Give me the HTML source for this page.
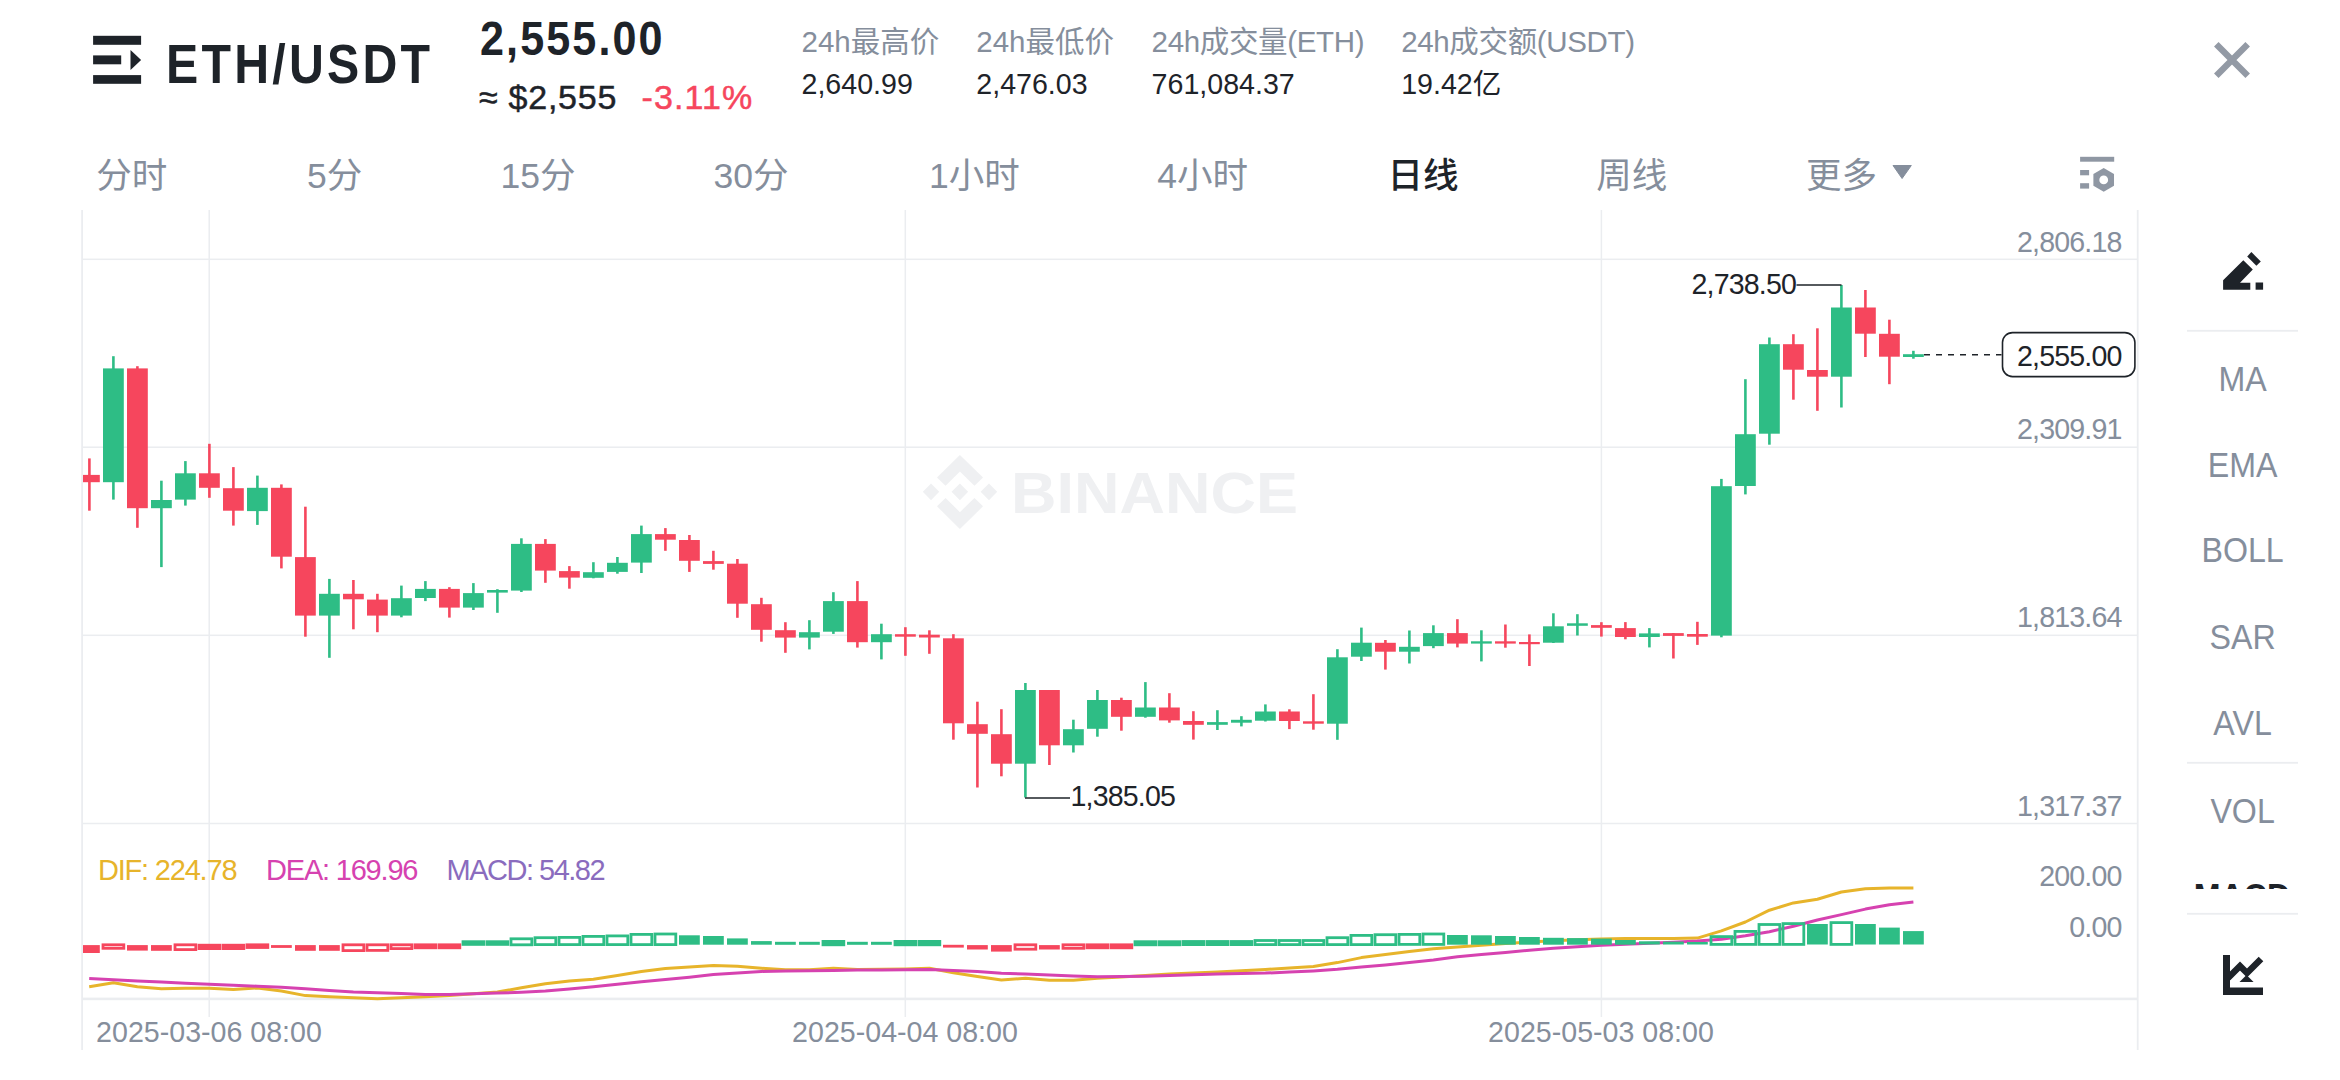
<!DOCTYPE html>
<html lang="zh-CN"><head><meta charset="utf-8"><title>ETH/USDT</title>
<style>
html,body{margin:0;padding:0;background:#fff;}
body{width:2340px;height:1080px;overflow:hidden;position:relative;font-family:'Liberation Sans', 'Noto Sans CJK SC', sans-serif;}
.abs{position:absolute;}
</style></head><body>
<svg class="abs" width="2340" height="1080" viewBox="0 0 2340 1080" style="left:0;top:0"><defs><clipPath id="cc"><rect x="83" y="210" width="2054" height="840"/></clipPath></defs><rect x="82" y="258.55" width="2056" height="1.5" fill="#EBEDF0"/><rect x="82" y="446.45" width="2056" height="1.5" fill="#EBEDF0"/><rect x="82" y="634.55" width="2056" height="1.5" fill="#EBEDF0"/><rect x="82" y="822.75" width="2056" height="1.5" fill="#EBEDF0"/><rect x="208.45" y="210" width="1.5" height="807" fill="#EBEDF0"/><rect x="904.55" y="210" width="1.5" height="807" fill="#EBEDF0"/><rect x="1600.65" y="210" width="1.5" height="807" fill="#EBEDF0"/><rect x="81.2" y="210" width="1.8" height="840" fill="#EBEDF0"/><rect x="2136.8" y="210" width="1.8" height="840" fill="#EBEDF0"/><rect x="82" y="997.6" width="2056" height="2.6" fill="#EBEDF0"/><g transform="translate(910 440) scale(0.17094)" fill="#EFF0F2"><polygon points="292,88 427,220 377,268 292,185 208,268 158,220"/><polygon points="75,303 123,255 171,303 123,352"/><polygon points="243,303 292,255 340,303 292,352"/><polygon points="413,303 462,255 510,303 462,352"/><polygon points="292,520 427,388 377,340 292,422 208,340 158,388"/></g><text x="1011" y="512.6" font-family="'Liberation Sans', 'Noto Sans CJK SC', sans-serif" font-weight="bold" font-size="58" fill="#EFF0F2" textLength="287" lengthAdjust="spacingAndGlyphs">BINANCE</text><g clip-path="url(#cc)"><rect x="88.10" y="458.4" width="2.6" height="52.3" fill="#F6465D"/><rect x="79.00" y="474.9" width="20.8" height="7.3" fill="#F6465D"/><rect x="112.10" y="356.2" width="2.6" height="143.4" fill="#2EBD85"/><rect x="103.00" y="368.4" width="20.8" height="113.8" fill="#2EBD85"/><rect x="136.10" y="366.2" width="2.6" height="161.6" fill="#F6465D"/><rect x="127.00" y="368.4" width="20.8" height="139.8" fill="#F6465D"/><rect x="160.10" y="480.7" width="2.6" height="86.4" fill="#2EBD85"/><rect x="151.00" y="500.0" width="20.8" height="8.2" fill="#2EBD85"/><rect x="184.10" y="461.1" width="2.6" height="44.5" fill="#2EBD85"/><rect x="175.00" y="473.3" width="20.8" height="26.3" fill="#2EBD85"/><rect x="208.10" y="443.8" width="2.6" height="54.0" fill="#F6465D"/><rect x="199.00" y="473.3" width="20.8" height="14.5" fill="#F6465D"/><rect x="232.10" y="467.1" width="2.6" height="58.5" fill="#F6465D"/><rect x="223.00" y="488.2" width="20.8" height="22.5" fill="#F6465D"/><rect x="256.10" y="475.6" width="2.6" height="49.3" fill="#2EBD85"/><rect x="247.00" y="487.8" width="20.8" height="23.3" fill="#2EBD85"/><rect x="280.10" y="484.4" width="2.6" height="84.0" fill="#F6465D"/><rect x="271.00" y="487.8" width="20.8" height="68.9" fill="#F6465D"/><rect x="304.10" y="506.7" width="2.6" height="130.0" fill="#F6465D"/><rect x="295.00" y="557.1" width="20.8" height="58.5" fill="#F6465D"/><rect x="328.10" y="578.9" width="2.6" height="78.9" fill="#2EBD85"/><rect x="319.00" y="593.8" width="20.8" height="21.8" fill="#2EBD85"/><rect x="352.10" y="580.0" width="2.6" height="49.3" fill="#F6465D"/><rect x="343.00" y="593.8" width="20.8" height="5.5" fill="#F6465D"/><rect x="376.10" y="593.8" width="2.6" height="38.4" fill="#F6465D"/><rect x="367.00" y="599.6" width="20.8" height="16.0" fill="#F6465D"/><rect x="400.10" y="585.6" width="2.6" height="31.7" fill="#2EBD85"/><rect x="391.00" y="598.2" width="20.8" height="17.4" fill="#2EBD85"/><rect x="424.10" y="581.1" width="2.6" height="20.0" fill="#2EBD85"/><rect x="415.00" y="588.9" width="20.8" height="9.1" fill="#2EBD85"/><rect x="448.10" y="587.2" width="2.6" height="30.4" fill="#F6465D"/><rect x="439.00" y="588.9" width="20.8" height="18.7" fill="#F6465D"/><rect x="472.10" y="583.1" width="2.6" height="26.9" fill="#2EBD85"/><rect x="463.00" y="593.1" width="20.8" height="14.5" fill="#2EBD85"/><rect x="496.10" y="589.2" width="2.6" height="23.6" fill="#2EBD85"/><rect x="487.00" y="590.0" width="20.8" height="2.6" fill="#2EBD85"/><rect x="520.10" y="538.3" width="2.6" height="53.7" fill="#2EBD85"/><rect x="511.00" y="543.9" width="20.8" height="46.7" fill="#2EBD85"/><rect x="544.10" y="539.1" width="2.6" height="43.7" fill="#F6465D"/><rect x="535.00" y="543.9" width="20.8" height="26.7" fill="#F6465D"/><rect x="568.10" y="566.1" width="2.6" height="22.6" fill="#F6465D"/><rect x="559.00" y="571.1" width="20.8" height="6.5" fill="#F6465D"/><rect x="592.10" y="562.2" width="2.6" height="16.1" fill="#2EBD85"/><rect x="583.00" y="572.2" width="20.8" height="5.6" fill="#2EBD85"/><rect x="616.10" y="557.0" width="2.6" height="16.7" fill="#2EBD85"/><rect x="607.00" y="562.8" width="20.8" height="9.1" fill="#2EBD85"/><rect x="640.10" y="525.6" width="2.6" height="47.4" fill="#2EBD85"/><rect x="631.00" y="534.1" width="20.8" height="28.5" fill="#2EBD85"/><rect x="664.10" y="528.1" width="2.6" height="22.7" fill="#F6465D"/><rect x="655.00" y="534.1" width="20.8" height="5.6" fill="#F6465D"/><rect x="688.10" y="535.0" width="2.6" height="36.9" fill="#F6465D"/><rect x="679.00" y="540.0" width="20.8" height="20.8" fill="#F6465D"/><rect x="712.10" y="550.8" width="2.6" height="18.9" fill="#F6465D"/><rect x="703.00" y="561.1" width="20.8" height="2.8" fill="#F6465D"/><rect x="736.10" y="559.0" width="2.6" height="58.8" fill="#F6465D"/><rect x="727.00" y="563.7" width="20.8" height="40.0" fill="#F6465D"/><rect x="760.10" y="597.8" width="2.6" height="43.9" fill="#F6465D"/><rect x="751.00" y="604.2" width="20.8" height="25.6" fill="#F6465D"/><rect x="784.10" y="622.2" width="2.6" height="30.6" fill="#F6465D"/><rect x="775.00" y="630.2" width="20.8" height="7.4" fill="#F6465D"/><rect x="808.10" y="620.2" width="2.6" height="29.2" fill="#2EBD85"/><rect x="799.00" y="632.2" width="20.8" height="5.4" fill="#2EBD85"/><rect x="832.10" y="592.2" width="2.6" height="41.7" fill="#2EBD85"/><rect x="823.00" y="601.1" width="20.8" height="30.6" fill="#2EBD85"/><rect x="856.10" y="581.1" width="2.6" height="66.5" fill="#F6465D"/><rect x="847.00" y="601.1" width="20.8" height="41.1" fill="#F6465D"/><rect x="880.10" y="623.7" width="2.6" height="35.7" fill="#2EBD85"/><rect x="871.00" y="634.2" width="20.8" height="8.0" fill="#2EBD85"/><rect x="904.10" y="627.2" width="2.6" height="28.6" fill="#F6465D"/><rect x="895.00" y="634.2" width="20.8" height="2.5" fill="#F6465D"/><rect x="928.10" y="630.3" width="2.6" height="23.5" fill="#F6465D"/><rect x="919.00" y="634.7" width="20.8" height="2.8" fill="#F6465D"/><rect x="952.10" y="634.2" width="2.6" height="105.5" fill="#F6465D"/><rect x="943.00" y="638.3" width="20.8" height="85.0" fill="#F6465D"/><rect x="976.10" y="701.7" width="2.6" height="85.8" fill="#F6465D"/><rect x="967.00" y="724.2" width="20.8" height="9.6" fill="#F6465D"/><rect x="1000.10" y="709.2" width="2.6" height="67.1" fill="#F6465D"/><rect x="991.00" y="734.2" width="20.8" height="29.5" fill="#F6465D"/><rect x="1024.10" y="683.0" width="2.6" height="114.5" fill="#2EBD85"/><rect x="1015.00" y="690.0" width="20.8" height="73.7" fill="#2EBD85"/><rect x="1048.10" y="690.0" width="2.6" height="75.0" fill="#F6465D"/><rect x="1039.00" y="690.0" width="20.8" height="55.3" fill="#F6465D"/><rect x="1072.10" y="719.7" width="2.6" height="32.8" fill="#2EBD85"/><rect x="1063.00" y="729.2" width="20.8" height="16.1" fill="#2EBD85"/><rect x="1096.10" y="690.0" width="2.6" height="46.7" fill="#2EBD85"/><rect x="1087.00" y="700.0" width="20.8" height="28.8" fill="#2EBD85"/><rect x="1120.10" y="697.7" width="2.6" height="33.0" fill="#F6465D"/><rect x="1111.00" y="700.0" width="20.8" height="16.8" fill="#F6465D"/><rect x="1144.10" y="682.1" width="2.6" height="35.6" fill="#2EBD85"/><rect x="1135.00" y="707.5" width="20.8" height="9.3" fill="#2EBD85"/><rect x="1168.10" y="693.2" width="2.6" height="29.5" fill="#F6465D"/><rect x="1159.00" y="707.5" width="20.8" height="12.9" fill="#F6465D"/><rect x="1192.10" y="711.2" width="2.6" height="28.4" fill="#F6465D"/><rect x="1183.00" y="721.0" width="20.8" height="3.8" fill="#F6465D"/><rect x="1216.10" y="710.2" width="2.6" height="19.8" fill="#2EBD85"/><rect x="1207.00" y="722.1" width="20.8" height="2.7" fill="#2EBD85"/><rect x="1240.10" y="716.2" width="2.6" height="10.2" fill="#2EBD85"/><rect x="1231.00" y="719.8" width="20.8" height="2.9" fill="#2EBD85"/><rect x="1264.10" y="704.4" width="2.6" height="17.1" fill="#2EBD85"/><rect x="1255.00" y="711.5" width="20.8" height="9.2" fill="#2EBD85"/><rect x="1288.10" y="709.3" width="2.6" height="19.8" fill="#F6465D"/><rect x="1279.00" y="711.5" width="20.8" height="9.5" fill="#F6465D"/><rect x="1312.10" y="694.2" width="2.6" height="35.5" fill="#F6465D"/><rect x="1303.00" y="721.3" width="20.8" height="2.4" fill="#F6465D"/><rect x="1336.10" y="649.2" width="2.6" height="90.6" fill="#2EBD85"/><rect x="1327.00" y="657.3" width="20.8" height="66.4" fill="#2EBD85"/><rect x="1360.10" y="627.6" width="2.6" height="33.4" fill="#2EBD85"/><rect x="1351.00" y="642.7" width="20.8" height="14.0" fill="#2EBD85"/><rect x="1384.10" y="640.0" width="2.6" height="29.6" fill="#F6465D"/><rect x="1375.00" y="642.8" width="20.8" height="8.9" fill="#F6465D"/><rect x="1408.10" y="630.5" width="2.6" height="33.0" fill="#2EBD85"/><rect x="1399.00" y="646.8" width="20.8" height="4.9" fill="#2EBD85"/><rect x="1432.10" y="625.3" width="2.6" height="22.9" fill="#2EBD85"/><rect x="1423.00" y="633.1" width="20.8" height="13.0" fill="#2EBD85"/><rect x="1456.10" y="619.2" width="2.6" height="28.2" fill="#F6465D"/><rect x="1447.00" y="633.1" width="20.8" height="10.5" fill="#F6465D"/><rect x="1480.10" y="630.3" width="2.6" height="31.1" fill="#2EBD85"/><rect x="1471.00" y="641.3" width="20.8" height="2.3" fill="#2EBD85"/><rect x="1504.10" y="624.5" width="2.6" height="23.2" fill="#F6465D"/><rect x="1495.00" y="641.3" width="20.8" height="2.3" fill="#F6465D"/><rect x="1528.10" y="634.4" width="2.6" height="31.6" fill="#F6465D"/><rect x="1519.00" y="642.0" width="20.8" height="2.2" fill="#F6465D"/><rect x="1552.10" y="613.3" width="2.6" height="29.7" fill="#2EBD85"/><rect x="1543.00" y="626.3" width="20.8" height="16.4" fill="#2EBD85"/><rect x="1576.10" y="614.2" width="2.6" height="21.3" fill="#2EBD85"/><rect x="1567.00" y="623.3" width="20.8" height="2.5" fill="#2EBD85"/><rect x="1600.10" y="622.2" width="2.6" height="14.4" fill="#F6465D"/><rect x="1591.00" y="625.1" width="20.8" height="2.7" fill="#F6465D"/><rect x="1624.10" y="622.1" width="2.6" height="17.2" fill="#F6465D"/><rect x="1615.00" y="628.1" width="20.8" height="8.9" fill="#F6465D"/><rect x="1648.10" y="628.1" width="2.6" height="19.3" fill="#2EBD85"/><rect x="1639.00" y="633.4" width="20.8" height="3.6" fill="#2EBD85"/><rect x="1672.10" y="633.0" width="2.6" height="25.5" fill="#F6465D"/><rect x="1663.00" y="633.1" width="20.8" height="2.8" fill="#F6465D"/><rect x="1696.10" y="621.8" width="2.6" height="23.1" fill="#F6465D"/><rect x="1687.00" y="634.0" width="20.8" height="2.7" fill="#F6465D"/><rect x="1720.10" y="478.9" width="2.6" height="158.4" fill="#2EBD85"/><rect x="1711.00" y="486.2" width="20.8" height="149.4" fill="#2EBD85"/><rect x="1744.10" y="379.2" width="2.6" height="115.2" fill="#2EBD85"/><rect x="1735.00" y="434.2" width="20.8" height="51.8" fill="#2EBD85"/><rect x="1768.10" y="337.5" width="2.6" height="107.2" fill="#2EBD85"/><rect x="1759.00" y="344.2" width="20.8" height="89.5" fill="#2EBD85"/><rect x="1792.10" y="334.2" width="2.6" height="65.5" fill="#F6465D"/><rect x="1783.00" y="344.2" width="20.8" height="25.5" fill="#F6465D"/><rect x="1816.10" y="328.3" width="2.6" height="82.5" fill="#F6465D"/><rect x="1807.00" y="370.0" width="20.8" height="6.7" fill="#F6465D"/><rect x="1840.10" y="285.0" width="2.6" height="122.5" fill="#2EBD85"/><rect x="1831.00" y="307.5" width="20.8" height="69.2" fill="#2EBD85"/><rect x="1864.10" y="290.0" width="2.6" height="67.0" fill="#F6465D"/><rect x="1855.00" y="307.5" width="20.8" height="26.2" fill="#F6465D"/><rect x="1888.10" y="319.7" width="2.6" height="64.5" fill="#F6465D"/><rect x="1879.00" y="333.8" width="20.8" height="22.9" fill="#F6465D"/><rect x="1912.10" y="350.8" width="2.6" height="7.9" fill="#2EBD85"/><rect x="1903.00" y="354.2" width="20.8" height="2.8" fill="#2EBD85"/><polyline points="89.2,986.8 113.4,982.8 137.4,986.8 161.4,988.8 185.4,988.2 209.4,988.2 233.4,989.5 257.4,987.9 281.4,991.0 305.4,995.6 329.4,996.7 353.4,997.7 377.4,998.7 401.4,997.7 425.4,996.7 449.4,995.6 473.4,993.8 497.4,992.1 521.4,987.7 545.4,983.8 569.4,981.0 593.4,979.2 617.4,975.6 641.4,971.6 665.4,968.5 689.4,966.9 713.4,965.4 737.4,966.3 761.4,968.3 785.4,969.8 809.4,969.8 833.4,968.3 857.4,969.4 881.4,969.2 905.4,969.0 929.4,968.3 953.4,972.8 977.4,976.6 1001.4,980.0 1025.4,978.3 1049.4,980.3 1073.4,980.3 1097.4,978.3 1121.4,976.9 1145.4,975.5 1169.4,974.1 1193.4,973.1 1217.4,972.0 1241.4,970.7 1265.4,969.4 1289.4,968.1 1313.4,966.6 1337.4,962.6 1361.4,957.6 1385.4,954.6 1409.4,951.6 1433.4,948.7 1457.4,946.9 1481.4,945.2 1505.4,943.6 1529.4,942.1 1553.4,940.8 1577.4,939.7 1601.4,938.9 1625.4,938.6 1649.4,938.5 1673.4,938.4 1697.4,938.1 1721.4,930.9 1745.4,922.0 1769.4,910.2 1793.4,902.9 1817.4,899.2 1841.4,892.0 1865.4,888.7 1889.4,888.0 1913.4,888.0" fill="none" stroke="#E7B42B" stroke-width="3" stroke-linejoin="round"/><polyline points="89.2,978.6 113.4,979.8 137.4,981.0 161.4,982.1 185.4,983.2 209.4,984.3 233.4,985.3 257.4,986.2 281.4,987.2 305.4,988.8 329.4,990.4 353.4,991.9 377.4,992.8 401.4,993.6 425.4,994.4 449.4,994.4 473.4,993.7 497.4,993.1 521.4,992.2 545.4,991.0 569.4,988.9 593.4,986.8 617.4,984.3 641.4,981.8 665.4,979.5 689.4,977.2 713.4,974.6 737.4,973.0 761.4,971.4 785.4,971.1 809.4,970.7 833.4,970.4 857.4,970.1 881.4,969.9 905.4,969.7 929.4,969.4 953.4,970.4 977.4,971.4 1001.4,973.2 1025.4,974.1 1049.4,975.1 1073.4,975.9 1097.4,976.8 1121.4,976.5 1145.4,976.2 1169.4,975.5 1193.4,974.8 1217.4,974.1 1241.4,973.6 1265.4,973.1 1289.4,972.0 1313.4,970.9 1337.4,969.3 1361.4,967.1 1385.4,964.9 1409.4,962.4 1433.4,959.9 1457.4,956.7 1481.4,954.5 1505.4,952.4 1529.4,950.2 1553.4,948.3 1577.4,946.7 1601.4,945.3 1625.4,944.3 1649.4,943.2 1673.4,942.2 1697.4,941.0 1721.4,939.2 1745.4,935.8 1769.4,931.7 1793.4,926.2 1817.4,920.0 1841.4,914.6 1865.4,909.1 1889.4,904.8 1913.4,902.1" fill="none" stroke="#D642B0" stroke-width="3" stroke-linejoin="round"/><rect x="79.00" y="945.1" width="20.8" height="7.9" fill="#F6465D"/><rect x="103.00" y="944.8" width="20.8" height="3.5" fill="none" stroke="#F6465D" stroke-width="2.8"/><rect x="127.00" y="945.1" width="20.8" height="5.5" fill="#F6465D"/><rect x="151.00" y="945.1" width="20.8" height="5.7" fill="#F6465D"/><rect x="175.00" y="944.8" width="20.8" height="4.8" fill="none" stroke="#F6465D" stroke-width="2.8"/><rect x="197.60" y="943.8" width="23.6" height="6.2" fill="#F6465D"/><rect x="221.60" y="943.8" width="23.6" height="6.2" fill="#F6465D"/><rect x="245.60" y="943.4" width="23.6" height="5.5" fill="#F6465D"/><rect x="271.00" y="945.1" width="20.8" height="2.8" fill="#F6465D"/><rect x="295.00" y="945.1" width="20.8" height="5.7" fill="#F6465D"/><rect x="319.00" y="945.1" width="20.8" height="5.7" fill="#F6465D"/><rect x="343.00" y="944.8" width="20.8" height="5.8" fill="none" stroke="#F6465D" stroke-width="2.8"/><rect x="367.00" y="944.8" width="20.8" height="5.6" fill="none" stroke="#F6465D" stroke-width="2.8"/><rect x="391.00" y="944.8" width="20.8" height="3.8" fill="none" stroke="#F6465D" stroke-width="2.8"/><rect x="413.60" y="943.4" width="23.6" height="5.8" fill="#F6465D"/><rect x="437.60" y="943.4" width="23.6" height="5.8" fill="#F6465D"/><rect x="461.60" y="940.3" width="23.6" height="5.5" fill="#2EBD85"/><rect x="485.60" y="940.3" width="23.6" height="5.5" fill="#2EBD85"/><rect x="511.00" y="938.8" width="20.8" height="6.0" fill="none" stroke="#2EBD85" stroke-width="2.8"/><rect x="535.00" y="937.7" width="20.8" height="6.9" fill="none" stroke="#2EBD85" stroke-width="2.8"/><rect x="559.00" y="937.4" width="20.8" height="7.2" fill="none" stroke="#2EBD85" stroke-width="2.8"/><rect x="583.00" y="936.4" width="20.8" height="8.2" fill="none" stroke="#2EBD85" stroke-width="2.8"/><rect x="607.00" y="935.9" width="20.8" height="8.7" fill="none" stroke="#2EBD85" stroke-width="2.8"/><rect x="631.00" y="934.4" width="20.8" height="10.2" fill="none" stroke="#2EBD85" stroke-width="2.8"/><rect x="655.00" y="934.0" width="20.8" height="10.6" fill="none" stroke="#2EBD85" stroke-width="2.8"/><rect x="679.00" y="935.3" width="20.8" height="9.4" fill="#2EBD85"/><rect x="703.00" y="936.0" width="20.8" height="8.7" fill="#2EBD85"/><rect x="727.00" y="938.4" width="20.8" height="6.3" fill="#2EBD85"/><rect x="751.00" y="941.1" width="20.8" height="3.6" fill="#2EBD85"/><rect x="775.00" y="941.8" width="20.8" height="3.0" fill="#2EBD85"/><rect x="799.00" y="941.8" width="20.8" height="3.0" fill="#2EBD85"/><rect x="821.60" y="940.0" width="23.6" height="6.2" fill="#2EBD85"/><rect x="847.00" y="941.8" width="20.8" height="3.0" fill="#2EBD85"/><rect x="871.00" y="941.8" width="20.8" height="3.0" fill="#2EBD85"/><rect x="893.60" y="940.0" width="23.6" height="6.2" fill="#2EBD85"/><rect x="917.60" y="940.0" width="23.6" height="6.2" fill="#2EBD85"/><rect x="943.00" y="944.8" width="20.8" height="2.8" fill="#F6465D"/><rect x="967.00" y="945.1" width="20.8" height="4.4" fill="#F6465D"/><rect x="991.00" y="945.1" width="20.8" height="6.5" fill="#F6465D"/><rect x="1015.00" y="944.8" width="20.8" height="4.4" fill="none" stroke="#F6465D" stroke-width="2.8"/><rect x="1039.00" y="945.1" width="20.8" height="4.4" fill="#F6465D"/><rect x="1063.00" y="944.8" width="20.8" height="3.5" fill="none" stroke="#F6465D" stroke-width="2.8"/><rect x="1085.60" y="943.4" width="23.6" height="5.8" fill="#F6465D"/><rect x="1109.60" y="943.4" width="23.6" height="5.8" fill="#F6465D"/><rect x="1133.60" y="940.3" width="23.6" height="5.9" fill="#2EBD85"/><rect x="1157.60" y="940.3" width="23.6" height="5.9" fill="#2EBD85"/><rect x="1181.60" y="940.1" width="23.6" height="5.9" fill="#2EBD85"/><rect x="1205.60" y="940.1" width="23.6" height="5.9" fill="#2EBD85"/><rect x="1229.60" y="940.1" width="23.6" height="5.9" fill="#2EBD85"/><rect x="1255.00" y="940.5" width="20.8" height="4.1" fill="none" stroke="#2EBD85" stroke-width="2.8"/><rect x="1279.00" y="940.5" width="20.8" height="4.1" fill="none" stroke="#2EBD85" stroke-width="2.8"/><rect x="1303.00" y="940.5" width="20.8" height="4.1" fill="none" stroke="#2EBD85" stroke-width="2.8"/><rect x="1327.00" y="937.7" width="20.8" height="6.9" fill="none" stroke="#2EBD85" stroke-width="2.8"/><rect x="1351.00" y="935.4" width="20.8" height="9.2" fill="none" stroke="#2EBD85" stroke-width="2.8"/><rect x="1375.00" y="934.7" width="20.8" height="9.9" fill="none" stroke="#2EBD85" stroke-width="2.8"/><rect x="1399.00" y="934.4" width="20.8" height="10.0" fill="none" stroke="#2EBD85" stroke-width="2.8"/><rect x="1423.00" y="934.0" width="20.8" height="10.4" fill="none" stroke="#2EBD85" stroke-width="2.8"/><rect x="1447.00" y="935.0" width="20.8" height="9.7" fill="#2EBD85"/><rect x="1471.00" y="935.3" width="20.8" height="9.4" fill="#2EBD85"/><rect x="1495.00" y="936.0" width="20.8" height="8.7" fill="#2EBD85"/><rect x="1519.00" y="937.0" width="20.8" height="7.7" fill="#2EBD85"/><rect x="1543.00" y="937.8" width="20.8" height="6.9" fill="#2EBD85"/><rect x="1567.00" y="938.1" width="20.8" height="6.6" fill="#2EBD85"/><rect x="1591.00" y="938.6" width="20.8" height="6.1" fill="#2EBD85"/><rect x="1615.00" y="940.0" width="20.8" height="4.7" fill="#2EBD85"/><rect x="1639.00" y="941.3" width="20.8" height="3.2" fill="#2EBD85"/><rect x="1663.00" y="941.6" width="20.8" height="2.9" fill="#2EBD85"/><rect x="1687.00" y="942.0" width="20.8" height="2.5" fill="#2EBD85"/><rect x="1711.00" y="936.6" width="20.8" height="7.8" fill="none" stroke="#2EBD85" stroke-width="2.8"/><rect x="1735.00" y="931.4" width="20.8" height="13.0" fill="none" stroke="#2EBD85" stroke-width="2.8"/><rect x="1759.00" y="924.5" width="20.8" height="19.9" fill="none" stroke="#2EBD85" stroke-width="2.8"/><rect x="1783.00" y="923.6" width="20.8" height="20.8" fill="none" stroke="#2EBD85" stroke-width="2.8"/><rect x="1807.00" y="924.0" width="20.8" height="20.5" fill="#2EBD85"/><rect x="1831.00" y="922.6" width="20.8" height="21.8" fill="none" stroke="#2EBD85" stroke-width="2.8"/><rect x="1855.00" y="924.0" width="20.8" height="20.5" fill="#2EBD85"/><rect x="1879.00" y="927.6" width="20.8" height="16.9" fill="#2EBD85"/><rect x="1903.00" y="931.1" width="20.8" height="13.4" fill="#2EBD85"/></g><line x1="1924" y1="354.8" x2="2001.5" y2="354.8" stroke="#1E2329" stroke-width="1.5" stroke-dasharray="6 6"/><rect x="2002.5" y="332.6" width="132.4" height="44" rx="10" ry="10" fill="#fff" stroke="#1E2329" stroke-width="1.6"/><line x1="1796.5" y1="285" x2="1841.5" y2="285" stroke="#1E2329" stroke-width="1.5"/><line x1="1025" y1="798" x2="1070" y2="798" stroke="#1E2329" stroke-width="1.5"/><text x="2121.5" y="251.8" font-family="'Liberation Sans', 'Noto Sans CJK SC', sans-serif" font-size="28.6" fill="#858E9C" font-weight="normal" text-anchor="end" letter-spacing="-0.85">2,806.18</text><text x="2121.5" y="438.9" font-family="'Liberation Sans', 'Noto Sans CJK SC', sans-serif" font-size="28.6" fill="#858E9C" font-weight="normal" text-anchor="end" letter-spacing="-0.85">2,309.91</text><text x="2121.5" y="627.0" font-family="'Liberation Sans', 'Noto Sans CJK SC', sans-serif" font-size="28.6" fill="#858E9C" font-weight="normal" text-anchor="end" letter-spacing="-0.85">1,813.64</text><text x="2121.5" y="816.3" font-family="'Liberation Sans', 'Noto Sans CJK SC', sans-serif" font-size="28.6" fill="#858E9C" font-weight="normal" text-anchor="end" letter-spacing="-0.85">1,317.37</text><text x="2121.5" y="885.8" font-family="'Liberation Sans', 'Noto Sans CJK SC', sans-serif" font-size="28.6" fill="#858E9C" font-weight="normal" text-anchor="end" letter-spacing="-0.85">200.00</text><text x="2121.5" y="936.9" font-family="'Liberation Sans', 'Noto Sans CJK SC', sans-serif" font-size="28.6" fill="#858E9C" font-weight="normal" text-anchor="end" letter-spacing="-0.85">0.00</text><text x="2121.5" y="365.6" font-family="'Liberation Sans', 'Noto Sans CJK SC', sans-serif" font-size="28.6" fill="#1E2329" font-weight="normal" text-anchor="end" letter-spacing="-0.85">2,555.00</text><text x="1691.5" y="293.7" font-family="'Liberation Sans', 'Noto Sans CJK SC', sans-serif" font-size="28.6" fill="#1E2329" font-weight="normal" text-anchor="start" letter-spacing="-0.85">2,738.50</text><text x="1070.5" y="805.8" font-family="'Liberation Sans', 'Noto Sans CJK SC', sans-serif" font-size="28.6" fill="#1E2329" font-weight="normal" text-anchor="start" letter-spacing="-0.85">1,385.05</text><text x="98" y="880" font-family="'Liberation Sans', 'Noto Sans CJK SC', sans-serif" font-size="29" fill="#E7B42B" font-weight="normal" text-anchor="start" letter-spacing="-1.2">DIF: 224.78</text><text x="266" y="880" font-family="'Liberation Sans', 'Noto Sans CJK SC', sans-serif" font-size="29" fill="#D642B0" font-weight="normal" text-anchor="start" letter-spacing="-1.2">DEA: 169.96</text><text x="446.5" y="880" font-family="'Liberation Sans', 'Noto Sans CJK SC', sans-serif" font-size="29" fill="#8A6CBE" font-weight="normal" text-anchor="start" letter-spacing="-1.5">MACD: 54.82</text><text x="209" y="1041.7" font-family="'Liberation Sans', 'Noto Sans CJK SC', sans-serif" font-size="28.6" fill="#858E9C" font-weight="normal" text-anchor="middle" >2025-03-06 08:00</text><text x="905" y="1041.7" font-family="'Liberation Sans', 'Noto Sans CJK SC', sans-serif" font-size="28.6" fill="#858E9C" font-weight="normal" text-anchor="middle" >2025-04-04 08:00</text><text x="1601" y="1041.7" font-family="'Liberation Sans', 'Noto Sans CJK SC', sans-serif" font-size="28.6" fill="#858E9C" font-weight="normal" text-anchor="middle" >2025-05-03 08:00</text><rect x="93.1" y="35.8" width="48" height="9" fill="#1E2329"/><rect x="93.1" y="55.4" width="28.1" height="8.9" fill="#1E2329"/><polygon points="130.5,50 141.1,60 130.5,70" fill="#1E2329"/><rect x="93.1" y="75.1" width="48" height="8.7" fill="#1E2329"/><g transform="matrix(0.872,0,0,1,21.25,0)"><text x="166" y="82.8" font-family="'Liberation Sans', 'Noto Sans CJK SC', sans-serif" font-size="55.4" fill="#1E2329" font-weight="bold" text-anchor="start" letter-spacing="3.7">ETH/USDT</text></g><g transform="matrix(0.88,0,0,1,57.60,0)"><text x="480" y="55.1" font-family="'Liberation Sans', 'Noto Sans CJK SC', sans-serif" font-size="49" fill="#1E2329" font-weight="bold" text-anchor="start" letter-spacing="2.4">2,555.00</text></g><text x="479" y="108.5" font-family="'Liberation Sans', 'Noto Sans CJK SC', sans-serif" font-size="34" fill="#1E2329" font-weight="normal" text-anchor="start" letter-spacing="0.75" stroke="#1E2329" stroke-width="0.5">≈ $2,555</text><text x="641.5" y="108.5" font-family="'Liberation Sans', 'Noto Sans CJK SC', sans-serif" font-size="34" fill="#F6465D" font-weight="normal" text-anchor="start" letter-spacing="1.1" stroke="#F6465D" stroke-width="0.5">-3.11%</text><text x="801.5" y="51.7" font-family="'Liberation Sans', 'Noto Sans CJK SC', sans-serif" font-size="29.5" fill="#858E9C" font-weight="normal" text-anchor="start" >24h最高价</text><text x="801.5" y="93.8" font-family="'Liberation Sans', 'Noto Sans CJK SC', sans-serif" font-size="28.6" fill="#1E2329" font-weight="normal" text-anchor="start" >2,640.99</text><text x="976.3" y="51.7" font-family="'Liberation Sans', 'Noto Sans CJK SC', sans-serif" font-size="29.5" fill="#858E9C" font-weight="normal" text-anchor="start" >24h最低价</text><text x="976.3" y="93.8" font-family="'Liberation Sans', 'Noto Sans CJK SC', sans-serif" font-size="28.6" fill="#1E2329" font-weight="normal" text-anchor="start" >2,476.03</text><text x="1151.6" y="51.7" font-family="'Liberation Sans', 'Noto Sans CJK SC', sans-serif" font-size="29.5" fill="#858E9C" font-weight="normal" text-anchor="start" letter-spacing="-0.35">24h成交量(ETH)</text><text x="1151.6" y="93.8" font-family="'Liberation Sans', 'Noto Sans CJK SC', sans-serif" font-size="28.6" fill="#1E2329" font-weight="normal" text-anchor="start" >761,084.37</text><text x="1401.2" y="51.7" font-family="'Liberation Sans', 'Noto Sans CJK SC', sans-serif" font-size="29.5" fill="#858E9C" font-weight="normal" text-anchor="start" letter-spacing="-0.35">24h成交额(USDT)</text><text x="1401.2" y="93.8" font-family="'Liberation Sans', 'Noto Sans CJK SC', sans-serif" font-size="28.6" fill="#1E2329" font-weight="normal" text-anchor="start" >19.42亿</text><text x="96.3" y="188.3" font-family="'Liberation Sans', 'Noto Sans CJK SC', sans-serif" font-size="35.5" fill="#858E9C" font-weight="normal" text-anchor="start" >分时</text><text x="306.9" y="188.3" font-family="'Liberation Sans', 'Noto Sans CJK SC', sans-serif" font-size="35.5" fill="#858E9C" font-weight="normal" text-anchor="start" >5分</text><text x="500.6" y="188.3" font-family="'Liberation Sans', 'Noto Sans CJK SC', sans-serif" font-size="35.5" fill="#858E9C" font-weight="normal" text-anchor="start" >15分</text><text x="713.5" y="188.3" font-family="'Liberation Sans', 'Noto Sans CJK SC', sans-serif" font-size="35.5" fill="#858E9C" font-weight="normal" text-anchor="start" >30分</text><text x="929" y="188.3" font-family="'Liberation Sans', 'Noto Sans CJK SC', sans-serif" font-size="35.5" fill="#858E9C" font-weight="normal" text-anchor="start" >1小时</text><text x="1157.2" y="188.3" font-family="'Liberation Sans', 'Noto Sans CJK SC', sans-serif" font-size="35.5" fill="#858E9C" font-weight="normal" text-anchor="start" >4小时</text><text x="1387.4" y="188.3" font-family="'Liberation Sans', 'Noto Sans CJK SC', sans-serif" font-size="35.5" fill="#1E2329" font-weight="500" text-anchor="start" >日线</text><text x="1596.3" y="188.3" font-family="'Liberation Sans', 'Noto Sans CJK SC', sans-serif" font-size="35.5" fill="#858E9C" font-weight="normal" text-anchor="start" >周线</text><text x="1806" y="188.3" font-family="'Liberation Sans', 'Noto Sans CJK SC', sans-serif" font-size="35.5" fill="#858E9C" font-weight="normal" text-anchor="start" >更多</text><polygon points="1893,165.5 1911.3,165.5 1902.1,178.5" fill="#858E9C" stroke="#858E9C" stroke-width="1" stroke-linejoin="round"/><rect x="2080.1" y="156.8" width="34.1" height="4.9" fill="#8F97A3"/><rect x="2080.1" y="170" width="9" height="5.3" fill="#8F97A3"/><rect x="2080.1" y="183.2" width="9" height="5.4" fill="#8F97A3"/><polygon points="2103.70,168.00 2114.01,173.95 2114.01,185.85 2103.70,191.80 2093.39,185.85 2093.39,173.95" fill="#8F97A3"/><circle cx="2103.7" cy="179.9" r="4.4" fill="#fff"/><path d="M2216.3 44.3 L2247.7 75.7 M2247.7 44.3 L2216.3 75.7" stroke="#939AA5" stroke-width="6.4" fill="none"/><polygon points="2223.1,280.3 2243.3,260.3 2252.8,269.4 2240,282.8 2250.3,282.8 2250.3,289.7 2223.1,289.7" fill="#1E2329"/><polygon points="2247.2,256.4 2251.4,252.1 2260.8,261.4 2256.4,265.8" fill="#1E2329"/><rect x="2255.6" y="282.5" width="7.5" height="7.2" fill="#1E2329"/><rect x="2187" y="329.9" width="111" height="1.8" fill="#EBEDF0"/><rect x="2187" y="761.9" width="111" height="1.8" fill="#EBEDF0"/><rect x="2187" y="912.9" width="111" height="1.8" fill="#EBEDF0"/><g transform="matrix(0.92,0,0,1,179.41,0)"><text x="2242.6" y="391" font-family="'Liberation Sans', 'Noto Sans CJK SC', sans-serif" font-size="35" fill="#858E9C" font-weight="normal" text-anchor="middle" >MA</text></g><g transform="matrix(0.92,0,0,1,179.41,0)"><text x="2242.6" y="477" font-family="'Liberation Sans', 'Noto Sans CJK SC', sans-serif" font-size="35" fill="#858E9C" font-weight="normal" text-anchor="middle" >EMA</text></g><g transform="matrix(0.92,0,0,1,179.41,0)"><text x="2242.6" y="562" font-family="'Liberation Sans', 'Noto Sans CJK SC', sans-serif" font-size="35" fill="#858E9C" font-weight="normal" text-anchor="middle" >BOLL</text></g><g transform="matrix(0.92,0,0,1,179.41,0)"><text x="2242.6" y="649.2" font-family="'Liberation Sans', 'Noto Sans CJK SC', sans-serif" font-size="35" fill="#858E9C" font-weight="normal" text-anchor="middle" >SAR</text></g><g transform="matrix(0.92,0,0,1,179.41,0)"><text x="2242.6" y="735.2" font-family="'Liberation Sans', 'Noto Sans CJK SC', sans-serif" font-size="35" fill="#858E9C" font-weight="normal" text-anchor="middle" >AVL</text></g><g transform="matrix(0.92,0,0,1,179.41,0)"><text x="2242.6" y="823" font-family="'Liberation Sans', 'Noto Sans CJK SC', sans-serif" font-size="35" fill="#858E9C" font-weight="normal" text-anchor="middle" >VOL</text></g><svg x="2180" y="870" width="130" height="19" overflow="hidden"><g transform="matrix(0.92,0,0,1,4.96,0)"><text x="62" y="38.5" font-family="'Liberation Sans', 'Noto Sans CJK SC', sans-serif" font-size="35" fill="#1E2329" font-weight="bold" text-anchor="middle" >MACD</text></g></svg><rect x="2223" y="955" width="7" height="40" fill="#1E2329"/><rect x="2223" y="987.5" width="40" height="7.5" fill="#1E2329"/><polyline points="2228,978 2240,966 2247,973 2261,959" fill="none" stroke="#1E2329" stroke-width="6.5" stroke-linecap="butt" stroke-linejoin="miter"/><polygon points="2246.5,975 2253.6,982 2239.5,982" fill="#1E2329"/></svg>
</body></html>
